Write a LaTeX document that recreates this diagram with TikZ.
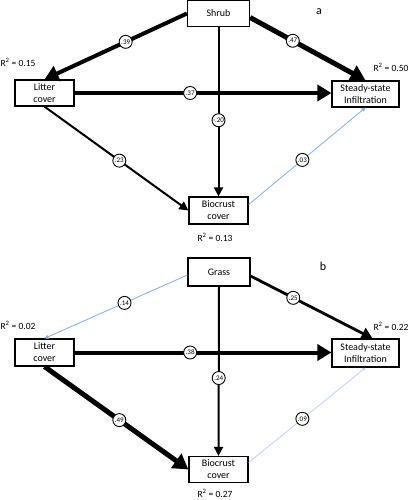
\documentclass[tikz,border=0pt]{standalone}
\usepackage{fontspec}
\setmainfont{Carlito}
\usetikzlibrary{arrows.meta,calc}
\definecolor{lblue}{RGB}{140,180,230}
\definecolor{vlblue}{RGB}{188,210,240}
\begin{document}
\begin{tikzpicture}[x=1pt,y=-1pt,
  box/.style={draw,line width=1.2pt,fill=white,inner sep=0pt,align=center,
    font=\fontsize{10}{12}\selectfont,minimum height=26pt},
  coef/.style={circle,draw=black,text=black,line width=0.9pt,fill=white,inner sep=0pt,
    minimum size=13pt,font=\fontsize{7}{8}\selectfont},
  rsq/.style={inner sep=0pt,font=\fontsize{9.5}{11}\selectfont},
  panel/.style={inner sep=0pt,font=\fontsize{12}{14}\selectfont},
  wfive/.style={line width=5pt,-{Triangle[length=15pt,width=17pt]}},
  wfour/.style={line width=4pt,-{Triangle[length=14pt,width=16pt]}},
  wthree/.style={line width=2.8pt,-{Triangle[length=11pt,width=12pt]}},
  wone/.style={line width=2pt,-{Triangle[length=9pt,width=9pt]}},
  wblue/.style={line width=0.9pt,lblue,-{Triangle[length=4pt,width=4pt]}},
  wvblue/.style={line width=0.8pt,vlblue,-{Triangle[length=3pt,width=3pt]}}
]
\useasboundingbox (0,0) rectangle (410,500);

% ---------------- panel a ----------------
\node[box,minimum width=62pt] (shrub) at (218.5,13.5) {Shrub};
\node[box,minimum width=59pt] (litA) at (44.5,93) {Litter\\cover};
\node[box,minimum width=67pt] (ssA) at (365.5,94) {Steady-state\\Infiltration};
\node[box,minimum width=59pt,minimum height=27pt] (bioA) at (218.5,210.5) {Biocrust\\cover};

\node[panel] (la) at (319,12) {a};
\node[rsq] (rlA) at (18,62) {R\textsuperscript{2} = 0.15};
\node[rsq] (rsA) at (391,67) {R\textsuperscript{2} = 0.50};
\node[rsq] (rbA) at (215,237) {R\textsuperscript{2} = 0.13};

\draw[wfour] (shrub.west) -- (litA.north) node[coef,pos=.43] {.39};
\draw[wfive] ([yshift=-4pt]shrub.east) -- (ssA.north) node[coef,pos=.37] {.47};
\draw[wfour] (litA.east) -- (litA.east -| ssA.west) node[coef,pos=.45] {.37};
\draw[wone] (shrub.south) -- (bioA.north) node[coef,pos=.55] {-.20};
\draw[wone] (litA.south) -- (bioA.west) node[coef,pos=.52] {.23};
\draw[wblue] ([yshift=6pt]bioA.east) -- (ssA.south) node[coef,pos=.46] {.03};

% ---------------- panel b ----------------
\node[box,minimum width=62pt,minimum height=28pt] (grass) at (219,272) {Grass};
\node[box,minimum width=59pt,minimum height=27pt] (litB) at (44.5,352.5) {Litter\\cover};
\node[box,minimum width=67pt,minimum height=28pt] (ssB) at (365.5,353) {Steady-state\\Infiltration};
\node[box,minimum width=59pt] (bioB) at (218.5,469.5) {Biocrust\\cover};

\node[panel] (lb) at (323,266) {b};
\node[rsq] (rlB) at (18,325) {R\textsuperscript{2} = 0.02};
\node[rsq] (rsB) at (391,326) {R\textsuperscript{2} = 0.22};
\node[rsq] (rbB) at (215,493.5) {R\textsuperscript{2} = 0.27};

\draw[wblue] ([yshift=-3pt]grass.west) -- (litB.north) node[coef,pos=.44] {.14};
\draw[wthree] ([yshift=-4pt]grass.east) -- ([xshift=7pt]ssB.north) node[coef,pos=.35] {.25};
\draw[wfour] (litB.east) -- (litB.east -| ssB.west) node[coef,pos=.45] {.38};
\draw[wone] (grass.south) -- (bioB.north) node[coef,pos=.54] {.24};
\draw[wfive] (litB.south) -- (bioB.west) node[coef,pos=.52] {.49};
\draw[wvblue] ([yshift=7pt]bioB.east) -- (ssB.south) node[coef,pos=.46] {.09};
\end{tikzpicture}
\end{document}
